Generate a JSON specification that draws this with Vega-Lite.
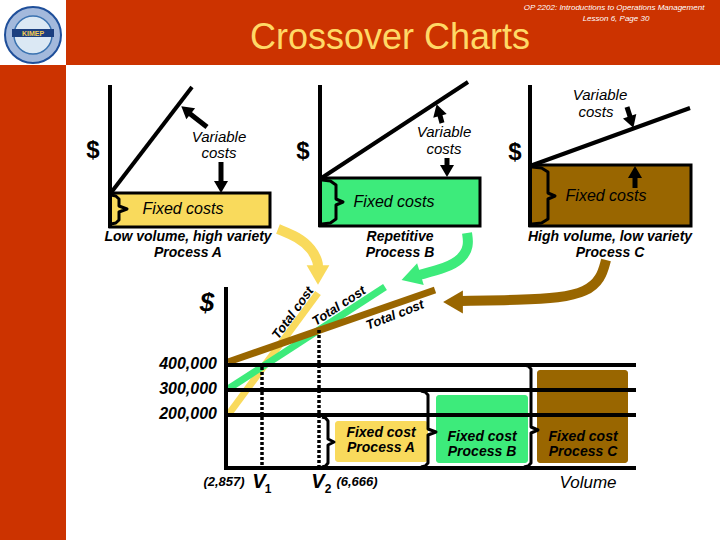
{
  "$schema": "https://vega.github.io/schema/vega-lite/v6.json",
  "width": 720,
  "height": 540,
  "autosize": {"type": "fit", "contains": "padding"},
  "padding": 0,
  "background": "white",
  "config": {"view": {"stroke": null}, "text": {"font": "Liberation Sans"}},
  "encoding": {
    "x": {"field": "x", "type": "quantitative", "scale": {"domain": [0, 720], "nice": false, "zero": false}, "axis": null},
    "y": {"field": "y", "type": "quantitative", "scale": {"domain": [0, 540], "nice": false, "zero": false, "reverse": true}, "axis": null}
  },
  "layer": [
    {
      "data": {"values": [{"x": 66, "x2": 720, "y": 0, "y2": 65}, {"x": 0, "x2": 66, "y": 65, "y2": 540}]},
      "mark": {"type": "rect", "color": "#CC3300"},
      "encoding": {"x2": {"field": "x2"}, "y2": {"field": "y2"}}
    },
    {
      "data": {"values": [{"x": 33, "y": 35}]},
      "mark": {"type": "point", "shape": "circle", "size": 3136, "filled": true, "fill": "#a3b9dc", "stroke": "#1f4f9a", "strokeWidth": 2, "opacity": 1}
    },
    {
      "data": {"values": [{"x": 33, "y": 35}]},
      "mark": {"type": "point", "shape": "circle", "size": 1444, "filled": true, "fill": "#dbe8f4", "stroke": "#3a72b0", "strokeWidth": 1.5, "opacity": 1}
    },
    {
      "data": {"values": [{"x": 12, "x2": 54, "y": 29, "y2": 37}]},
      "mark": {"type": "rect", "color": "#1b3f80"},
      "encoding": {"x2": {"field": "x2"}, "y2": {"field": "y2"}}
    },
    {
      "data": {"values": [{"x": 33, "y": 33.5, "t": "KIMEP"}]},
      "mark": {"type": "text", "fontSize": 7, "fontWeight": "bold", "color": "#f2cc55", "align": "center", "baseline": "middle"},
      "encoding": {"text": {"field": "t"}}
    },
    {
      "data": {"values": [
        {"x": 110, "x2": 270, "y": 193, "y2": 227, "p": "A"},
        {"x": 320, "x2": 480, "y": 178, "y2": 226, "p": "B"},
        {"x": 530, "x2": 691, "y": 165, "y2": 226, "p": "C"}
      ]},
      "mark": {"type": "rect", "stroke": "black", "strokeWidth": 3},
      "encoding": {
        "x2": {"field": "x2"}, "y2": {"field": "y2"},
        "color": {"field": "p", "type": "nominal", "scale": {"domain": ["A", "B", "C"], "range": ["#F9DA5C", "#3DEB7B", "#996600"]}, "legend": null}
      }
    },
    {
      "data": {"values": [
        {"x": 335, "x2": 428, "y": 421, "y2": 462, "p": "A"},
        {"x": 436, "x2": 528, "y": 395, "y2": 463, "p": "B"},
        {"x": 537, "x2": 628, "y": 370, "y2": 463, "p": "C"}
      ]},
      "mark": {"type": "rect", "cornerRadius": 3},
      "encoding": {
        "x2": {"field": "x2"}, "y2": {"field": "y2"},
        "color": {"field": "p", "type": "nominal", "legend": null}
      }
    },
    {
      "data": {"values": [
        {"x": 228, "y": 415, "x2": 318, "y2": 293, "p": "A"},
        {"x": 228, "y": 389, "x2": 385, "y2": 287, "p": "B"},
        {"x": 228, "y": 362, "x2": 435, "y2": 290, "p": "C"}
      ]},
      "mark": {"type": "rule", "strokeWidth": 7},
      "encoding": {
        "x2": {"field": "x2"}, "y2": {"field": "y2"},
        "color": {"field": "p", "type": "nominal", "legend": null}
      }
    },
    {
      "data": {"values": [
        {"x": 278, "y": 229, "o": 0, "p": "A"},
        {"x": 298, "y": 237, "o": 1, "p": "A"},
        {"x": 312, "y": 249, "o": 2, "p": "A"},
        {"x": 318, "y": 262, "o": 3, "p": "A"},
        {"x": 318, "y": 267, "o": 4, "p": "A"},
        {"x": 467, "y": 233, "o": 0, "p": "B"},
        {"x": 469, "y": 246, "o": 1, "p": "B"},
        {"x": 462, "y": 259, "o": 2, "p": "B"},
        {"x": 446, "y": 268, "o": 3, "p": "B"},
        {"x": 419, "y": 275, "o": 4, "p": "B"},
        {"x": 606, "y": 260, "o": 0, "p": "C"},
        {"x": 601, "y": 279, "o": 1, "p": "C"},
        {"x": 586, "y": 292, "o": 2, "p": "C"},
        {"x": 560, "y": 298, "o": 3, "p": "C"},
        {"x": 520, "y": 300, "o": 4, "p": "C"},
        {"x": 461, "y": 301, "o": 5, "p": "C"}
      ]},
      "mark": {"type": "line", "interpolate": "basis", "strokeWidth": 10, "strokeCap": "butt"},
      "encoding": {
        "color": {"field": "p", "type": "nominal", "legend": null},
        "order": {"field": "o", "type": "quantitative"}
      }
    },
    {
      "data": {"values": [
        {"x": 318, "y": 275, "dir": 180, "p": "A"},
        {"x": 411, "y": 277, "dir": 253, "p": "B"},
        {"x": 453, "y": 302, "dir": 270, "p": "C"}
      ]},
      "mark": {"type": "point", "shape": "triangle-up", "filled": true, "size": 520, "opacity": 1},
      "encoding": {
        "color": {"field": "p", "type": "nominal", "legend": null},
        "angle": {"field": "dir", "type": "quantitative", "scale": null}
      }
    },
    {
      "data": {"values": [
        {"x": 110, "y": 85, "x2": 110, "y2": 228},
        {"x": 110, "y": 194, "x2": 192, "y2": 87},
        {"x": 320, "y": 85, "x2": 320, "y2": 227},
        {"x": 320, "y": 179, "x2": 468, "y2": 82},
        {"x": 530, "y": 85, "x2": 530, "y2": 227},
        {"x": 530, "y": 166, "x2": 690, "y2": 108},
        {"x": 226, "y": 287, "x2": 226, "y2": 470},
        {"x": 226, "y": 365, "x2": 636, "y2": 365},
        {"x": 226, "y": 390, "x2": 636, "y2": 390},
        {"x": 226, "y": 415, "x2": 636, "y2": 415},
        {"x": 224, "y": 468, "x2": 636, "y2": 468}
      ]},
      "mark": {"type": "rule", "strokeWidth": 4, "color": "black"},
      "encoding": {"x2": {"field": "x2"}, "y2": {"field": "y2"}}
    },
    {
      "data": {"values": [
        {"x": 262, "y": 367, "x2": 262, "y2": 468},
        {"x": 319, "y": 330, "x2": 319, "y2": 468}
      ]},
      "mark": {"type": "rule", "strokeWidth": 3.5, "color": "black", "strokeDash": [3, 2]},
      "encoding": {"x2": {"field": "x2"}, "y2": {"field": "y2"}}
    },
    {
      "data": {"values": [
        {"id": "b1", "o": 1, "x": 322, "y": 417}, {"id": "b1", "o": 2, "x": 325.6, "y": 418}, {"id": "b1", "o": 3, "x": 328, "y": 421},
        {"id": "b1", "o": 4, "x": 328, "y": 439}, {"id": "b1", "o": 5, "x": 334, "y": 442}, {"id": "b1", "o": 6, "x": 328, "y": 445},
        {"id": "b1", "o": 7, "x": 328, "y": 463}, {"id": "b1", "o": 8, "x": 325.6, "y": 466}, {"id": "b1", "o": 9, "x": 322, "y": 467},
        {"id": "b2", "o": 1, "x": 421, "y": 391}, {"id": "b2", "o": 2, "x": 425.2, "y": 392}, {"id": "b2", "o": 3, "x": 428, "y": 395},
        {"id": "b2", "o": 4, "x": 428, "y": 429}, {"id": "b2", "o": 5, "x": 436, "y": 432}, {"id": "b2", "o": 6, "x": 428, "y": 435},
        {"id": "b2", "o": 7, "x": 428, "y": 463}, {"id": "b2", "o": 8, "x": 425.2, "y": 466}, {"id": "b2", "o": 9, "x": 421, "y": 467},
        {"id": "b3", "o": 1, "x": 524, "y": 365}, {"id": "b3", "o": 2, "x": 528.2, "y": 366}, {"id": "b3", "o": 3, "x": 531, "y": 369},
        {"id": "b3", "o": 4, "x": 531, "y": 427}, {"id": "b3", "o": 5, "x": 538, "y": 430}, {"id": "b3", "o": 6, "x": 531, "y": 433},
        {"id": "b3", "o": 7, "x": 531, "y": 463}, {"id": "b3", "o": 8, "x": 528.2, "y": 466}, {"id": "b3", "o": 9, "x": 524, "y": 467},
        {"id": "tA", "o": 1, "x": 111, "y": 195}, {"id": "tA", "o": 2, "x": 115.8, "y": 196}, {"id": "tA", "o": 3, "x": 119, "y": 199},
        {"id": "tA", "o": 4, "x": 119, "y": 206}, {"id": "tA", "o": 5, "x": 127, "y": 209}, {"id": "tA", "o": 6, "x": 119, "y": 212},
        {"id": "tA", "o": 7, "x": 119, "y": 220}, {"id": "tA", "o": 8, "x": 115.8, "y": 223}, {"id": "tA", "o": 9, "x": 111, "y": 224},
        {"id": "tB", "o": 1, "x": 322, "y": 180}, {"id": "tB", "o": 2, "x": 330.4, "y": 181}, {"id": "tB", "o": 3, "x": 336, "y": 185},
        {"id": "tB", "o": 4, "x": 336, "y": 199}, {"id": "tB", "o": 5, "x": 343, "y": 202}, {"id": "tB", "o": 6, "x": 336, "y": 205},
        {"id": "tB", "o": 7, "x": 336, "y": 219}, {"id": "tB", "o": 8, "x": 330.4, "y": 223}, {"id": "tB", "o": 9, "x": 322, "y": 224},
        {"id": "tC", "o": 1, "x": 532, "y": 167}, {"id": "tC", "o": 2, "x": 541.6, "y": 168}, {"id": "tC", "o": 3, "x": 548, "y": 172},
        {"id": "tC", "o": 4, "x": 548, "y": 193}, {"id": "tC", "o": 5, "x": 555, "y": 196}, {"id": "tC", "o": 6, "x": 548, "y": 199},
        {"id": "tC", "o": 7, "x": 548, "y": 219}, {"id": "tC", "o": 8, "x": 541.6, "y": 223}, {"id": "tC", "o": 9, "x": 532, "y": 224}
      ]},
      "mark": {"type": "line", "strokeWidth": 3, "color": "black", "strokeJoin": "round"},
      "encoding": {
        "detail": {"field": "id", "type": "nominal"},
        "order": {"field": "o", "type": "quantitative"}
      }
    },
    {
      "data": {"values": [
        {"x": 207, "y": 127, "x2": 189, "y2": 113},
        {"x": 221, "y": 162, "x2": 221, "y2": 184},
        {"x": 442, "y": 123, "x2": 439, "y2": 112},
        {"x": 447, "y": 158, "x2": 447, "y2": 168},
        {"x": 627, "y": 107, "x2": 630.5, "y2": 118},
        {"x": 635, "y": 188, "x2": 635, "y2": 175}
      ]},
      "mark": {"type": "rule", "strokeWidth": 5, "color": "black"},
      "encoding": {"x2": {"field": "x2"}, "y2": {"field": "y2"}}
    },
    {
      "data": {"values": [
        {"x": 186, "y": 110, "dir": 309},
        {"x": 221, "y": 187, "dir": 180},
        {"x": 438.3, "y": 110, "dir": 344},
        {"x": 447, "y": 171, "dir": 180},
        {"x": 631.5, "y": 122, "dir": 162},
        {"x": 635, "y": 172, "dir": 0}
      ]},
      "mark": {"type": "point", "shape": "triangle-up", "filled": true, "size": 196, "color": "black", "opacity": 1},
      "encoding": {"angle": {"field": "dir", "type": "quantitative", "scale": null}}
    },
    {
      "data": {"values": [{"x": 390, "y": 38, "t": "Crossover Charts"}]},
      "mark": {"type": "text", "fontSize": 36, "color": "#FFD966", "align": "center", "baseline": "middle"},
      "encoding": {"text": {"field": "t"}}
    },
    {
      "data": {"values": [
        {"x": 614, "y": 8, "t": "OP 2202: Introductions to Operations Management"},
        {"x": 616, "y": 19, "t": "Lesson 6, Page 30"}
      ]},
      "mark": {"type": "text", "fontSize": 8, "fontStyle": "italic", "color": "white", "align": "center", "baseline": "middle"},
      "encoding": {"text": {"field": "t"}}
    },
    {
      "data": {"values": [
        {"x": 219, "y": 137, "t": "Variable"}, {"x": 219, "y": 153, "t": "costs"},
        {"x": 444, "y": 132, "t": "Variable"}, {"x": 444, "y": 149, "t": "costs"},
        {"x": 600, "y": 95, "t": "Variable"}, {"x": 596, "y": 112, "t": "costs"}
      ]},
      "mark": {"type": "text", "fontSize": 15, "fontStyle": "italic", "color": "black", "align": "center", "baseline": "middle"},
      "encoding": {"text": {"field": "t"}}
    },
    {
      "data": {"values": [
        {"x": 183, "y": 209, "t": "Fixed costs"},
        {"x": 394, "y": 202, "t": "Fixed costs"},
        {"x": 606, "y": 196, "t": "Fixed costs"}
      ]},
      "mark": {"type": "text", "fontSize": 16, "fontStyle": "italic", "color": "black", "align": "center", "baseline": "middle"},
      "encoding": {"text": {"field": "t"}}
    },
    {
      "data": {"values": [
        {"x": 93, "y": 151, "t": "$"}, {"x": 303, "y": 152, "t": "$"}, {"x": 515, "y": 153, "t": "$"}
      ]},
      "mark": {"type": "text", "fontSize": 24, "fontWeight": "bold", "color": "black", "align": "center", "baseline": "middle"},
      "encoding": {"text": {"field": "t"}}
    },
    {
      "data": {"values": [
        {"x": 188, "y": 237, "t": "Low volume, high variety"}, {"x": 188, "y": 253, "t": "Process A"},
        {"x": 400, "y": 237, "t": "Repetitive"}, {"x": 400, "y": 253, "t": "Process B"},
        {"x": 610, "y": 237, "t": "High volume, low variety"}, {"x": 610, "y": 253, "t": "Process C"},
        {"x": 381, "y": 433, "t": "Fixed cost"}, {"x": 381, "y": 448, "t": "Process A"},
        {"x": 482, "y": 437, "t": "Fixed cost"}, {"x": 482, "y": 452, "t": "Process B"},
        {"x": 583, "y": 437, "t": "Fixed cost"}, {"x": 583, "y": 452, "t": "Process C"}
      ]},
      "mark": {"type": "text", "fontSize": 14, "fontStyle": "italic", "fontWeight": "bold", "color": "black", "align": "center", "baseline": "middle"},
      "encoding": {"text": {"field": "t"}}
    },
    {
      "data": {"values": [
        {"x": 224, "y": 482, "t": "(2,857)"}, {"x": 357, "y": 482, "t": "(6,666)"}
      ]},
      "mark": {"type": "text", "fontSize": 13, "fontStyle": "italic", "fontWeight": "bold", "color": "black", "align": "center", "baseline": "middle"},
      "encoding": {"text": {"field": "t"}}
    },
    {
      "data": {"values": [
        {"x": 217, "y": 364, "t": "400,000"}, {"x": 217, "y": 389, "t": "300,000"}, {"x": 217, "y": 414, "t": "200,000"}
      ]},
      "mark": {"type": "text", "fontSize": 16, "fontStyle": "italic", "fontWeight": "bold", "color": "black", "align": "right", "baseline": "middle"},
      "encoding": {"text": {"field": "t"}}
    },
    {
      "data": {"values": [{"x": 207, "y": 303, "t": "$"}]},
      "mark": {"type": "text", "fontSize": 26, "fontStyle": "italic", "fontWeight": "bold", "color": "black", "align": "center", "baseline": "middle"},
      "encoding": {"text": {"field": "t"}}
    },
    {
      "data": {"values": [{"x": 259, "y": 482, "t": "V"}, {"x": 318, "y": 482, "t": "V"}]},
      "mark": {"type": "text", "fontSize": 20, "fontStyle": "italic", "fontWeight": "bold", "color": "black", "align": "center", "baseline": "middle"},
      "encoding": {"text": {"field": "t"}}
    },
    {
      "data": {"values": [{"x": 268, "y": 489, "t": "1"}, {"x": 328, "y": 489, "t": "2"}]},
      "mark": {"type": "text", "fontSize": 12, "fontWeight": "bold", "color": "black", "align": "center", "baseline": "middle"},
      "encoding": {"text": {"field": "t"}}
    },
    {
      "data": {"values": [{"x": 588, "y": 483, "t": "Volume"}]},
      "mark": {"type": "text", "fontSize": 17, "fontStyle": "italic", "color": "black", "align": "center", "baseline": "middle"},
      "encoding": {"text": {"field": "t"}}
    },
    {
      "data": {"values": [{"x": 293, "y": 313, "t": "Total cost"}]},
      "mark": {"type": "text", "fontSize": 13, "fontStyle": "italic", "fontWeight": "bold", "color": "black", "align": "center", "baseline": "middle", "angle": -54},
      "encoding": {"text": {"field": "t"}}
    },
    {
      "data": {"values": [{"x": 339, "y": 306, "t": "Total cost"}]},
      "mark": {"type": "text", "fontSize": 13, "fontStyle": "italic", "fontWeight": "bold", "color": "black", "align": "center", "baseline": "middle", "angle": -33},
      "encoding": {"text": {"field": "t"}}
    },
    {
      "data": {"values": [{"x": 395, "y": 315, "t": "Total cost"}]},
      "mark": {"type": "text", "fontSize": 13, "fontStyle": "italic", "fontWeight": "bold", "color": "black", "align": "center", "baseline": "middle", "angle": -21},
      "encoding": {"text": {"field": "t"}}
    }
  ]
}
